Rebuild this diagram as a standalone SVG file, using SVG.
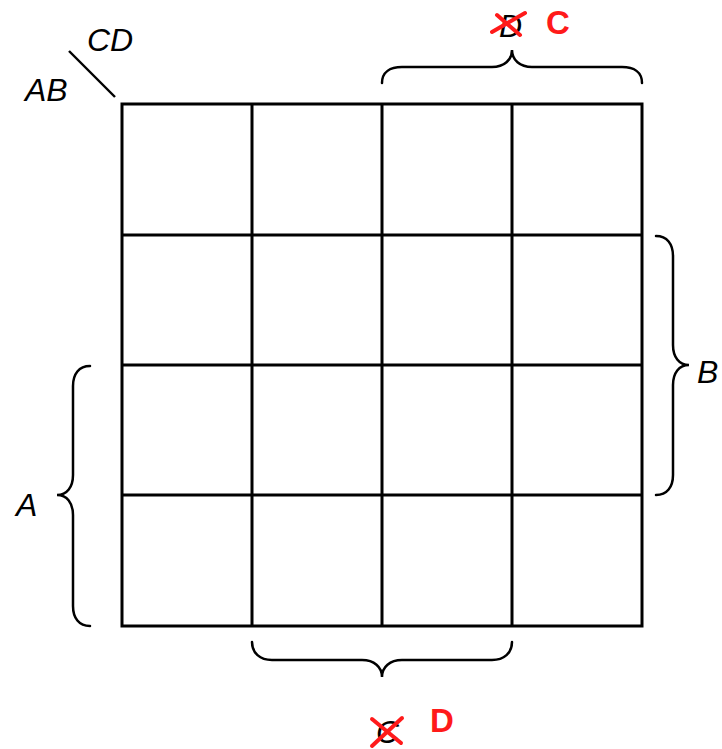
<svg xmlns="http://www.w3.org/2000/svg" width="722" height="749" viewBox="0 0 722 749">
<style>
.grid{fill:none;stroke:#000;stroke-width:3}
.brace{fill:none;stroke:#000;stroke-width:2.5;stroke-linecap:round}
.lbl{font-family:"Liberation Sans",Arial,sans-serif;font-style:italic;font-size:32px;fill:#000}
.red{font-family:"Liberation Sans",Arial,sans-serif;font-weight:bold;font-size:33px;fill:#ff1a1a}
.x{stroke:#ff1a1a;stroke-width:4;stroke-linecap:round;fill:none}
</style>
<rect width="722" height="749" fill="#fff"/>
<g id="grid">
<rect class="grid" x="122" y="104" width="520" height="522"/>
<path class="grid" d="M252,104V626M382,104V626M512,104V626M122,235H642M122,365H642M122,495H642"/>
</g>
<g id="corner">
<line x1="69" y1="51" x2="115" y2="97" stroke="#000" stroke-width="2.4"/>
<text class="lbl" x="87" y="51">CD</text>
<text class="lbl" x="25" y="101">AB</text>
</g>
<g id="connectors">
<path class="brace" d="M382,83 C382,72 390,67 402,67 L492,67 C504,67 512,60 512,50 C512,60 520,67 532,67 L622,67 C634,67 642,72 642,83"/>
<path class="brace" d="M252,642 C252,653 260,660 272,660 L362,660 C374,660 382,667 382,677 C382,667 390,660 402,660 L492,660 C504,660 512,653 512,642"/>
<path class="brace" d="M656,236 C667,236 673,244 673,256 L673,345 C673,357 679,365 689,365 C679,365 673,373 673,385 L673,475 C673,487 667,495 656,495"/>
<path class="brace" d="M90,366 C79,366 73,374 73,386 L73,475 C73,487 67,495 57,495 C67,495 73,503 73,515 L73,606 C73,618 79,626 90,626"/>
</g>
<g id="label-top">
<text class="lbl" x="499" y="37">D</text>
<line class="x" x1="497" y1="15" x2="520" y2="35"/>
<line class="x" x1="492" y1="32" x2="525" y2="13"/>
<text class="red" x="546" y="34">C</text>
</g>
<g id="label-bottom">
<text class="lbl" x="376" y="743">C</text>
<line class="x" x1="372" y1="719" x2="401" y2="743"/>
<line class="x" x1="372" y1="746" x2="402" y2="718"/>
<text class="red" x="430" y="732">D</text>
</g>
<g id="label-B"><text class="lbl" x="697" y="383">B</text></g>
<g id="label-A"><text class="lbl" x="16" y="516">A</text></g>
</svg>
